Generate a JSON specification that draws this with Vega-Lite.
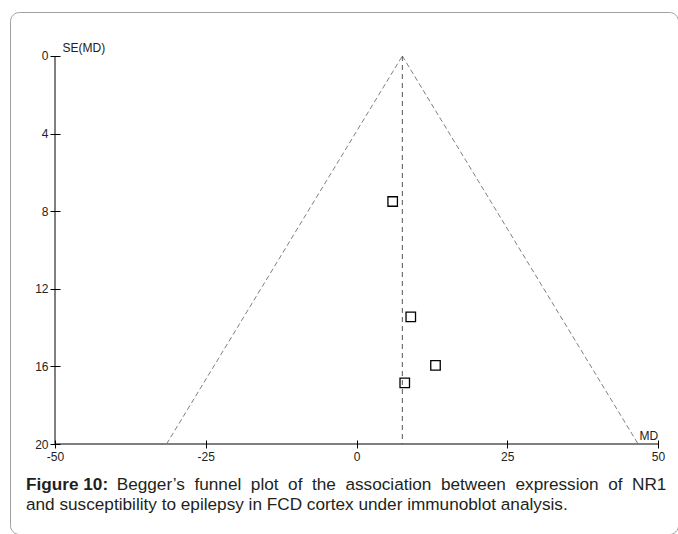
{
  "$schema": "https://vega.github.io/schema/vega-lite/v6.json",
  "width": 668,
  "height": 522,
  "autosize": {"type": "none"},
  "padding": {"left": 10, "top": 12, "right": 0, "bottom": 0},
  "background": "white",
  "title": {
    "text": "Figure 10:",
    "subtitle": [
      "\u200b\u00a0\u00a0\u00a0\u00a0\u00a0\u00a0\u00a0\u00a0\u00a0\u00a0\u00a0\u00a0\u00a0\u00a0\u00a0\u00a0\u00a0\u00a0\u00a0Begger’s \u00a0funnel \u00a0plot \u00a0of \u00a0the \u00a0association \u00a0between \u00a0expression \u00a0of \u00a0NR1",
      "and susceptibility to epilepsy in FCD cortex under immunoblot analysis."
    ],
    "orient": "bottom",
    "anchor": "start",
    "frame": "group",
    "offset": -58,
    "dx": 16,
    "font": "Liberation Sans",
    "fontSize": 17.2,
    "fontWeight": "bold",
    "color": "#231f20",
    "subtitleFont": "Liberation Sans",
    "subtitleFontSize": 17.2,
    "subtitleColor": "#231f20",
    "subtitlePadding": -17,
    "subtitleLineHeight": 20
  },
  "config": {
    "font": "Liberation Sans",
    "view": {"stroke": "#a0a0a0", "cornerRadius": 9},
    "axis": {
      "grid": false,
      "domain": false,
      "tickColor": "#000",
      "tickWidth": 1,
      "labelColor": "#222",
      "labelFont": "Liberation Sans",
      "labelFontSize": 12,
      "titleFont": "Liberation Sans",
      "titleFontWeight": "normal",
      "titleFontSize": 12,
      "titleColor": "#222"
    }
  },
  "datasets": {
    "studies": [
      {"md": 6.0, "se": 7.5},
      {"md": 9.0, "se": 13.45},
      {"md": 13.1, "se": 15.95},
      {"md": 8.0, "se": 16.85}
    ],
    "funnel": [
      {"line": "left", "md": 7.6, "se": 0},
      {"line": "left", "md": -31.5, "se": 20},
      {"line": "right", "md": 7.6, "se": 0},
      {"line": "right", "md": 46.7, "se": 20}
    ],
    "centre": [
      {"md": 7.6, "se": 0},
      {"md": 7.6, "se": 20}
    ],
    "axislines": [
      {"md": -50, "md2": 50, "se": 20, "se2": 20},
      {"md": -50, "md2": -50, "se": 0, "se2": 20}
    ]
  },
  "encoding": {
    "x": {
      "field": "md", "type": "quantitative",
      "scale": {"domain": [-57.463, 53.315], "nice": false, "zero": false},
      "axis": {
        "values": [-50, -25, 0, 25, 50],
        "offset": -94,
        "tickSize": 8,
        "labelPadding": 3,
        "labelExpr": "'' + datum.value",
        "labelFlush": false,
        "labelOverlap": false,
        "title": "MD",
        "titleX": 629,
        "titleY": -1,
        "titleAlign": "left",
        "titleBaseline": "alphabetic",
        "titleAnchor": null
      }
    },
    "y": {
      "field": "se", "type": "quantitative",
      "scale": {"domain": [-2.268, 24.639], "nice": false, "zero": false, "reverse": true},
      "axis": {
        "values": [0, 4, 8, 12, 16, 20],
        "offset": -50,
        "tickSize": 10,
        "labelPadding": 2,
        "labelBaseline": "middle",
        "labelFlush": false,
        "labelOverlap": false,
        "title": "SE(MD)",
        "titleAngle": 0,
        "titleX": 2,
        "titleY": 39,
        "titleAlign": "left",
        "titleBaseline": "alphabetic",
        "titleAnchor": null
      }
    }
  },
  "layer": [
    {
      "data": {"name": "axislines"},
      "mark": {"type": "rule", "color": "#000", "strokeWidth": 1},
      "encoding": {
        "x2": {"field": "md2"},
        "y2": {"field": "se2"}
      }
    },
    {
      "data": {"name": "funnel"},
      "mark": {"type": "line", "color": "#808080", "strokeWidth": 1, "strokeDash": [5, 3]},
      "encoding": {
        "detail": {"field": "line"}
      }
    },
    {
      "data": {"name": "centre"},
      "mark": {"type": "line", "color": "#555555", "strokeWidth": 1, "strokeDash": [5, 4]},
      "encoding": {}
    },
    {
      "data": {"name": "studies"},
      "mark": {"type": "point", "shape": "square", "filled": false, "size": 90, "color": "#000", "strokeWidth": 1.3, "opacity": 1},
      "encoding": {}
    }
  ]
}
